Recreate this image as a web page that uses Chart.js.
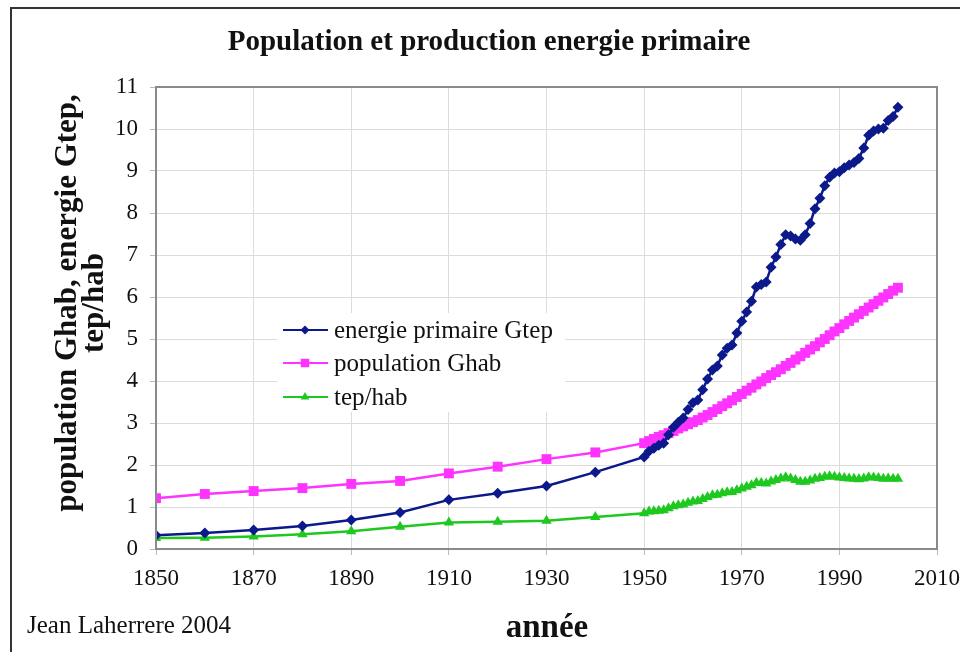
<!DOCTYPE html>
<html lang="fr">
<head>
<meta charset="utf-8">
<title>Population et production energie primaire</title>
<script src="https://cdn.jsdelivr.net/npm/chart.js@4/dist/chart.umd.min.js"></script>
<style>
  html, body { margin: 0; padding: 0; background: #fff; }
  #wrap { position: relative; width: 960px; height: 652px; overflow: hidden; }
  #frame {
    position: absolute; left: 10px; top: 7px; width: 1000px; height: 700px;
    border-left: 2px solid #333; border-top: 2px solid #333;
  }
  canvas { position: absolute; left: 0; top: 0; }
</style>
</head>
<body>
<div id="wrap">
  <div id="frame"></div>
  <canvas id="chart" width="960" height="652"></canvas>
</div>
<script>
// years: every 10 years up to 1940, then yearly
const YEARS = [
  1850, 1860, 1870, 1880, 1890, 1900, 1910, 1920, 1930, 1940,
  1950, 1951, 1952, 1953, 1954, 1955, 1956, 1957, 1958, 1959,
  1960, 1961, 1962, 1963, 1964, 1965, 1966, 1967, 1968, 1969,
  1970, 1971, 1972, 1973, 1974, 1975, 1976, 1977, 1978, 1979,
  1980, 1981, 1982, 1983, 1984, 1985, 1986, 1987, 1988, 1989,
  1990, 1991, 1992, 1993, 1994, 1995, 1996, 1997, 1998, 1999,
  2000, 2001, 2002,
];

const ENERGY_GTEP = [
  0.33, 0.38, 0.45, 0.55, 0.69, 0.87, 1.17, 1.33, 1.50, 1.83,
  2.19, 2.33, 2.40, 2.47, 2.52, 2.72, 2.90, 3.02, 3.12, 3.32,
  3.48, 3.55, 3.79, 4.05, 4.26, 4.36, 4.62, 4.78, 4.86, 5.14,
  5.42, 5.64, 5.90, 6.24, 6.30, 6.36, 6.71, 6.95, 7.25, 7.48,
  7.45, 7.38, 7.35, 7.48, 7.75, 8.10, 8.35, 8.65, 8.85, 8.95,
  8.98, 9.08, 9.14, 9.20, 9.30, 9.55, 9.85, 9.95, 10.00, 10.02,
  10.20, 10.30, 10.52,
];

const POPULATION_GHAB = [
  1.21, 1.31, 1.38, 1.45, 1.55, 1.62, 1.80, 1.96, 2.14, 2.30,
  2.52, 2.57, 2.62, 2.67, 2.71, 2.76, 2.81, 2.87, 2.92, 2.97,
  3.02, 3.07, 3.13, 3.19, 3.26, 3.33, 3.40, 3.47, 3.54, 3.62,
  3.69, 3.77, 3.84, 3.92, 3.99, 4.07, 4.14, 4.21, 4.28, 4.36,
  4.43, 4.51, 4.59, 4.67, 4.75, 4.83, 4.92, 5.00, 5.09, 5.18,
  5.26, 5.35, 5.43, 5.51, 5.59, 5.67, 5.75, 5.83, 5.91, 5.99,
  6.07, 6.15, 6.22,
];

const TEP_PER_HAB = [
  0.26, 0.27, 0.30, 0.35, 0.42, 0.53, 0.63, 0.65, 0.67, 0.76,
  0.85, 0.89, 0.90, 0.91, 0.92, 0.97, 1.02, 1.04, 1.06, 1.10,
  1.13, 1.14, 1.19, 1.24, 1.28, 1.29, 1.33, 1.35, 1.36, 1.40,
  1.44, 1.48, 1.52, 1.58, 1.57, 1.56, 1.61, 1.64, 1.68, 1.71,
  1.68, 1.64, 1.60, 1.60, 1.63, 1.67, 1.69, 1.72, 1.73, 1.72,
  1.70, 1.69, 1.68, 1.67, 1.66, 1.68, 1.71, 1.70, 1.69, 1.67,
  1.68, 1.67, 1.67,
];

const SERIES_LABELS = ["energie primaire Gtep", "population Ghab", "tep/hab"];
const X_TICKS = { min: 1850, max: 2010, step: 20 };
const Y_TICKS = { min: 0, max: 11, step: 1 };

const COLORS = { energy: "#0c198a", population: "#ff33ff", tep: "#1ec81e" };
const SERIF = "'Liberation Serif', 'DejaVu Serif', serif";

const toPoints = (values) => YEARS.map((year, i) => ({ x: year, y: values[i] }));

// Draw a legend marker by hand, same shapes as the datasets.
const drawMarker = (ctx, style, x, y, r, color) => {
  ctx.fillStyle = color;
  ctx.beginPath();
  if (style === "rectRot") {
    ctx.moveTo(x, y - r); ctx.lineTo(x + r, y); ctx.lineTo(x, y + r); ctx.lineTo(x - r, y);
  } else if (style === "rect") {
    const s = r * Math.SQRT1_2;
    ctx.rect(x - s, y - s, 2 * s, 2 * s);
  } else {
    ctx.moveTo(x, y - r); ctx.lineTo(x + r * 0.87, y + r * 0.5); ctx.lineTo(x - r * 0.87, y + r * 0.5);
  }
  ctx.closePath();
  ctx.fill();
};

// Plot frame, legend box and the free texts around the chart.
const decorPlugin = {
  id: "decor",
  afterDatasetsDraw(chart) {
    const { ctx, chartArea: a } = chart;
    ctx.save();
    ctx.strokeStyle = "#8a8a8a";
    ctx.lineWidth = 2;
    ctx.strokeRect(a.left, a.top, a.right - a.left, a.bottom - a.top);

    // legend inside plot area
    ctx.fillStyle = "#fff";
    ctx.fillRect(277, 313, 288, 99);
    const rows = [330, 363, 397];
    chart.data.datasets.forEach((ds, i) => {
      const y = rows[i];
      ctx.strokeStyle = ds.borderColor;
      ctx.lineWidth = 2;
      ctx.beginPath();
      ctx.moveTo(283, y);
      ctx.lineTo(328, y);
      ctx.stroke();
      drawMarker(ctx, ds.pointStyle, 305, y, ds.pointRadius - 1, ds.borderColor);
      ctx.fillStyle = "#111";
      ctx.font = `25px ${SERIF}`;
      ctx.textBaseline = "middle";
      ctx.textAlign = "left";
      ctx.fillText(ds.label, 334, y + 1);
    });
    ctx.restore();
  },
  afterDraw(chart) {
    const { ctx } = chart;
    ctx.save();
    ctx.fillStyle = "#111";
    ctx.textBaseline = "alphabetic";

    ctx.textAlign = "center";
    ctx.font = `bold 29px ${SERIF}`;
    ctx.fillText("Population et production energie primaire", 489, 50);

    ctx.font = `bold 33px ${SERIF}`;
    ctx.fillText("année", 547, 637);

    ctx.textAlign = "left";
    ctx.font = `25px ${SERIF}`;
    ctx.fillText("Jean Laherrere 2004", 27, 633);

    ctx.translate(0, 303);
    ctx.rotate(-Math.PI / 2);
    ctx.textAlign = "center";
    ctx.font = `bold 31px ${SERIF}`;
    ctx.fillText("population Ghab, energie Gtep,", 0, 76);
    ctx.fillText("tep/hab", 0, 103);
    ctx.restore();
  },
};

const makeDataset = (label, values, color, pointStyle, radius) => ({
  label,
  data: toPoints(values),
  borderColor: color,
  backgroundColor: color,
  borderWidth: 2.5,
  pointStyle,
  pointRadius: radius,
  pointBorderWidth: 0,
  pointHoverRadius: radius,
  tension: 0,
});

new Chart(document.getElementById("chart").getContext("2d"), {
  type: "line",
  data: {
    datasets: [
      makeDataset(SERIES_LABELS[0], ENERGY_GTEP, COLORS.energy, "rectRot", 5.5),
      makeDataset(SERIES_LABELS[1], POPULATION_GHAB, COLORS.population, "rect", 7),
      makeDataset(SERIES_LABELS[2], TEP_PER_HAB, COLORS.tep, "triangle", 6),
    ],
  },
  options: {
    responsive: false,
    animation: false,
    devicePixelRatio: 1,
    layout: { padding: { top: 87, right: 23, left: 0, bottom: 0 } },
    plugins: { legend: { display: false }, title: { display: false }, tooltip: { enabled: false } },
    scales: {
      x: {
        type: "linear",
        min: X_TICKS.min,
        max: X_TICKS.max,
        afterFit: (scale) => {
          scale.height = 103;
          scale.paddingLeft = 0;
          scale.paddingRight = 0;
        },
        afterBuildTicks: (scale) => {
          const ticks = [];
          for (let v = X_TICKS.min; v <= X_TICKS.max; v += X_TICKS.step) ticks.push({ value: v });
          scale.ticks = ticks;
        },
        ticks: {
          color: "#111",
          font: { family: SERIF, size: 23 },
          padding: 10,
          maxRotation: 0,
          callback: (v) => String(v),
        },
        grid: { color: "#dcdcdc", lineWidth: 1, tickLength: 6, tickColor: "#bbb" },
        border: { color: "#8a8a8a", width: 2 },
      },
      y: {
        type: "linear",
        min: Y_TICKS.min,
        max: Y_TICKS.max,
        afterFit: (scale) => {
          scale.width = 156;
          scale.paddingTop = 0;
          scale.paddingBottom = 0;
        },
        ticks: {
          stepSize: Y_TICKS.step,
          color: "#111",
          font: { family: SERIF, size: 23 },
          padding: 12,
          callback: (v) => String(v),
        },
        grid: { color: "#dcdcdc", lineWidth: 1, tickLength: 6, tickColor: "#bbb" },
        border: { color: "#8a8a8a", width: 2 },
      },
    },
  },
  plugins: [decorPlugin],
});
</script>
</body>
</html>
